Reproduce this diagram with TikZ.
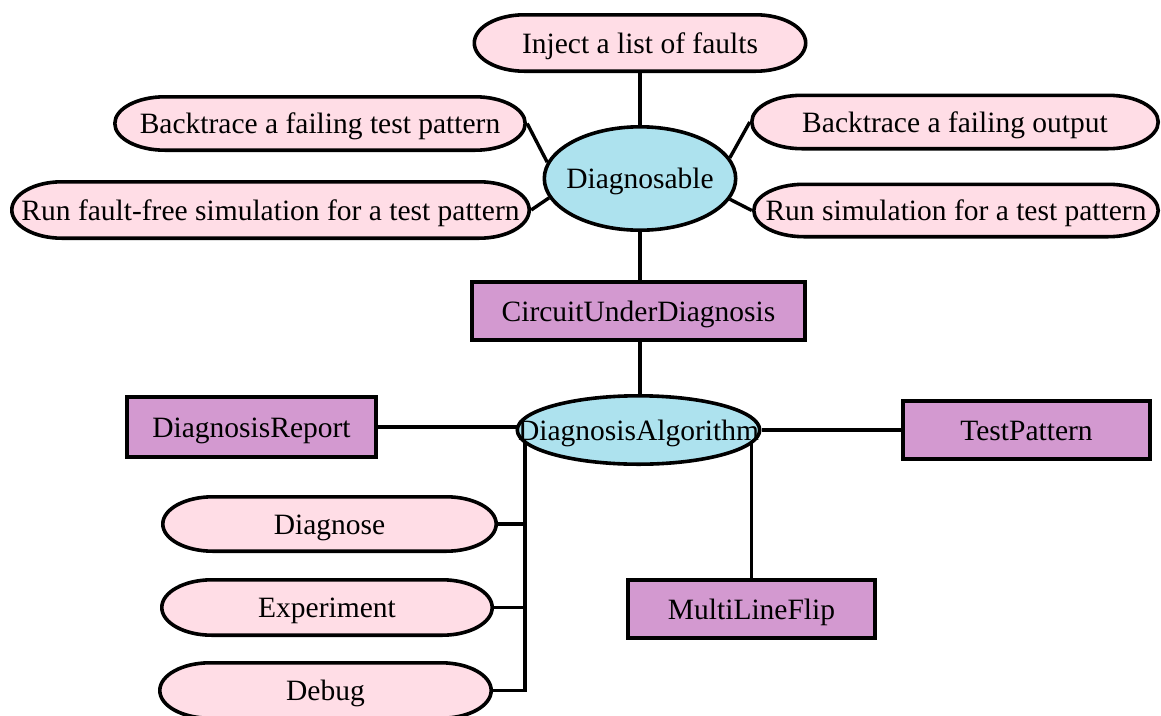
\documentclass[tikz,border=0pt]{standalone}
\usepackage{fontspec}
\setmainfont{Liberation Serif}
\usetikzlibrary{shapes.geometric,backgrounds,calc}
\definecolor{pillpink}{RGB}{255,221,230}
\definecolor{classcyan}{RGB}{173,226,238}
\definecolor{boxplum}{RGB}{211,153,208}
\begin{document}
\begin{tikzpicture}[x=1pt,y=-1pt,
  every node/.style={font=\fontsize{29.5}{34}\selectfont, inner sep=0pt,
    text height=21pt, text depth=1pt},
  conn/.style={line width=3.4pt},
  % operation: a bar with half-ellipse ends
  pill/.style 2 args={rectangle, minimum width=#1, minimum height=#2,
    path picture={
      \path[fill=pillpink, draw=black, line width=3.6pt]
        let \p1=(path picture bounding box.south west),
            \p2=(path picture bounding box.north east),
            \n1={(\y2-\y1)/2-1.8pt} in
        ({\x1+51.8pt},{\y2-1.8pt}) -- ({\x2-51.8pt},{\y2-1.8pt})
        arc[start angle=90,end angle=-90,x radius=50pt,y radius=\n1]
        -- ({\x1+51.8pt},{\y1+1.8pt})
        arc[start angle=270,end angle=90,x radius=50pt,y radius=\n1]
        -- cycle;}},
  % class with interface
  oval/.style 2 args={ellipse, draw=black, fill=classcyan, line width=3.6pt,
    minimum width={#1-3.6pt}, minimum height={#2-3.6pt}},
  % plain class
  box/.style 2 args={rectangle, draw=black, fill=boxplum, line width=3.6pt,
    minimum width={#1-3.6pt}, minimum height={#2-3.6pt}},
]
\useasboundingbox (0,0) rectangle (1161,715);

% Diagnosable interface and its operations
\node[pill={335pt}{60pt}] (inj) at (640,43) {Inject a list of faults};
\node[pill={414pt}{57pt}] (btp) at (320,123.5) {Backtrace a failing test pattern};
\node[pill={521pt}{60pt}] (rff) at (270.5,210) {Run fault-free simulation for a test pattern};
\node[pill={410pt}{57pt}] (bto) at (955,122) {Backtrace a failing output};
\node[pill={408pt}{56pt}] (rs) at (956,210.5) {Run simulation for a test pattern};
\node[oval={195pt}{107pt}] (dg) at (640,178.5) {};
\node (dgtxt) at (dg.center) {Diagnosable};

% circuit and algorithm
\node[box={337pt}{62pt}] (cud) at (638.5,311) {CircuitUnderDiagnosis};
\node[oval={246pt}{72pt}] (da) at (638.5,430) {};
\node (datxt) at (da.center) {DiagnosisAlgorithm};
\node[box={253pt}{64pt}] (dr) at (251.5,427) {DiagnosisReport};
\node[box={251pt}{62pt}] (tp) at (1026.5,430) {TestPattern};
\node[box={251pt}{62pt}] (mlf) at (751.5,609) {MultiLineFlip};

% algorithm operations
\node[pill={337pt}{58pt}] (dgn) at (329.5,524) {Diagnose};
\node[pill={334pt}{59pt}] (exp) at (327,607.5) {Experiment};
\node[pill={335pt}{59pt}] (dbg) at (325.5,690.5) {Debug};
\coordinate (split) at (525,690.5);
\coordinate (spine) at (640,0);

\begin{scope}[on background layer]
  \fill[white] (0,0) rectangle (1161,715);
  \draw[conn] (inj) -- (dg);
  \draw[conn] (spine |- dg.center) -- (spine |- cud.center);
  \draw[conn] (spine |- cud.center) -- (spine |- da.center);
  \draw[conn] (btp.east) -- (dg.170);
  \draw[conn] (rff.east) -- (dg.192);
  \draw[conn] (bto.west) -- (dg.13);
  \draw[conn] (rs.west) -- (dg.347);
  \draw[conn] (dr.east) -- (dr.east -| da.center);
  \draw[conn] (da) -- (tp);
  \draw[conn] (mlf.north) -- (mlf.north |- da.center);
  \draw[conn] (split |- da.center) -- (split) -- (dbg.east);
  \draw[conn] (dgn.east) -- (dgn.east -| split);
  \draw[conn] (exp.east) -- (exp.east -| split);
\end{scope}
\end{tikzpicture}
\end{document}
